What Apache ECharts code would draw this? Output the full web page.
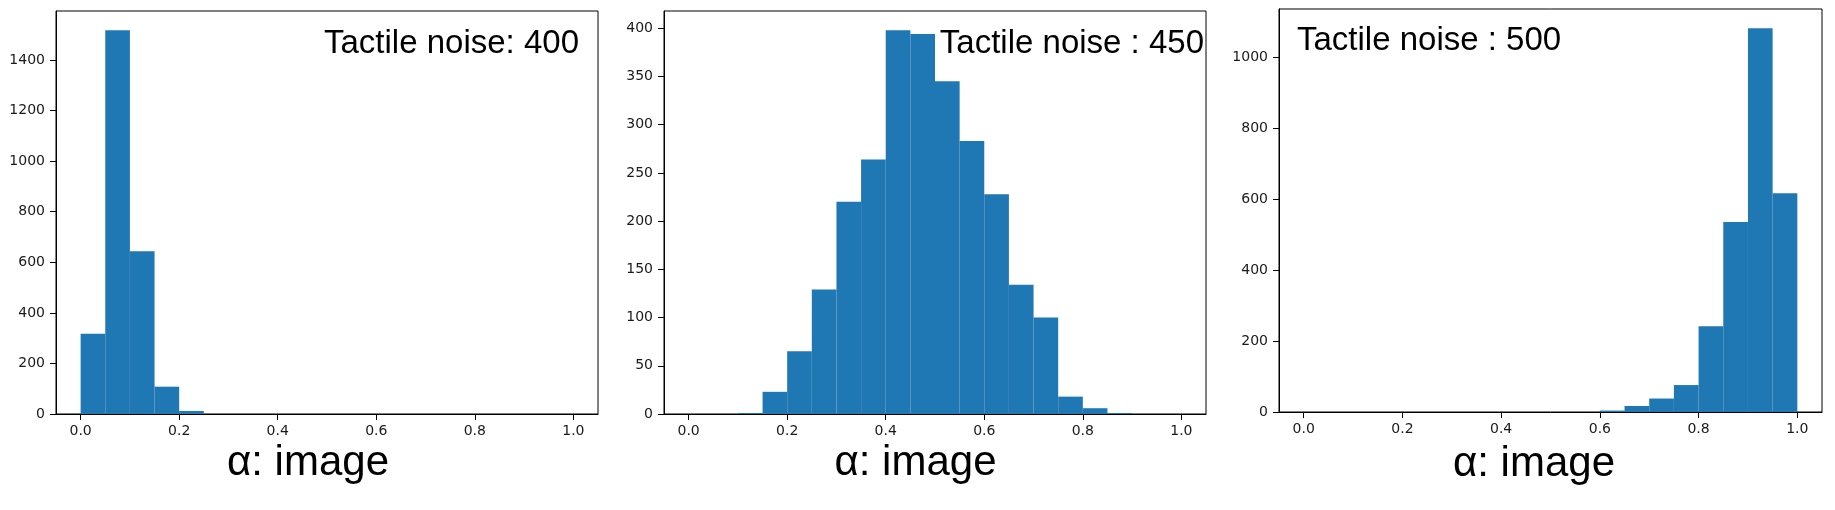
<!DOCTYPE html>
<html>
<head>
<meta charset="utf-8">
<script src="https://cdn.jsdelivr.net/npm/echarts@6/dist/echarts.min.js"></script>
<style>
html,body{margin:0;padding:0;background:#fff;}
#chart{width:1835px;height:510px;}
</style>
</head>
<body>
<div id="chart"></div>
<script>
// ---- data ----
var binEdges = [0, 0.05, 0.1, 0.15, 0.2, 0.25, 0.3, 0.35, 0.4, 0.45, 0.5, 0.55, 0.6, 0.65, 0.7, 0.75, 0.8, 0.85, 0.9, 0.95, 1.0];
var counts400 = [317, 1518, 644, 108, 12, 0, 0, 0, 0, 0, 0, 0, 0, 0, 0, 0, 0, 0, 0, 0];
var counts450 = [0, 0, 1, 23, 65, 129, 220, 264, 398, 394, 345, 283, 228, 134, 100, 18, 6, 1, 0, 0];
var counts500 = [0, 0, 0, 0, 0, 0, 0, 0, 0, 0, 0, 0, 4, 17, 38, 76, 242, 536, 1083, 617];
var panelTitles = ['Tactile noise: 400', 'Tactile noise : 450', 'Tactile noise : 500'];
var xAxisTitle = 'α: image';
var xTicks = [0, 0.2, 0.4, 0.6, 0.8, 1.0];
var yTicks400 = [0, 200, 400, 600, 800, 1000, 1200, 1400];
var yTicks450 = [0, 50, 100, 150, 200, 250, 300, 350, 400];
var yTicks500 = [0, 200, 400, 600, 800, 1000];

// ---- layout ----
var panels = [
  {counts: counts400, yTicks: yTicks400, grid: {left: 56, top: 11, width: 542, height: 403}, nameGap: 16, namePad: 38,
   title: {right: 1835 - 579, top: 27}},
  {counts: counts450, yTicks: yTicks450, grid: {left: 664, top: 11, width: 542, height: 403}, nameGap: 22, namePad: 39,
   title: {right: 1835 - 1204, top: 27}},
  {counts: counts500, yTicks: yTicks500, grid: {left: 1279, top: 9, width: 543, height: 403}, nameGap: 31, namePad: 33,
   title: {left: 1297, top: 24}}
];

function binData(counts) {
  var out = [];
  for (var i = 0; i < counts.length; i++) {
    out.push([binEdges[i], binEdges[i + 1], counts[i]]);
  }
  return out;
}

var option = {
  backgroundColor: '#fff',
  animation: false,
  title: [], grid: [], xAxis: [], yAxis: [], series: []
};

panels.forEach(function (p, k) {
  var maxC = Math.max.apply(null, p.counts);
  var t = {
    text: panelTitles[k], top: p.title.top, padding: 0,
    textStyle: {fontFamily: 'Liberation Sans', fontSize: 33, fontWeight: 'normal', color: '#000'}
  };
  if (p.title.right !== undefined) t.right = p.title.right; else t.left = p.title.left;
  option.title.push(t);
  option.grid.push({left: p.grid.left, top: p.grid.top, width: p.grid.width, height: p.grid.height,
    show: true, borderColor: '#000', borderWidth: 1, backgroundColor: 'transparent', containLabel: false});
  option.xAxis.push({
    type: 'value', gridIndex: k, min: -0.05, max: 1.05,
    name: xAxisTitle, nameLocation: 'middle', nameGap: p.nameGap,
    nameTextStyle: {fontFamily: 'Liberation Sans', fontSize: 42, color: '#000', padding: [0, p.namePad, 0, 0]},
    axisLine: {show: true, onZero: false, lineStyle: {color: '#000', width: 1}},
    axisTick: {show: true, length: 6, inside: false, customValues: xTicks, lineStyle: {color: '#000'}},
    axisLabel: {margin: 10, customValues: xTicks, fontFamily: 'DejaVu Sans', fontSize: 14, color: '#1a1a1a',
      formatter: function (v) { return Number(v).toFixed(1); }},
    splitLine: {show: false}
  });
  option.yAxis.push({
    type: 'value', gridIndex: k, min: 0, max: maxC * 1.05,
    axisLine: {show: true, onZero: false, lineStyle: {color: '#000', width: 1}},
    axisTick: {show: true, length: 6, inside: false, customValues: p.yTicks, lineStyle: {color: '#000'}},
    axisLabel: {margin: 11, customValues: p.yTicks, fontFamily: 'DejaVu Sans', fontSize: 14, color: '#1a1a1a',
      formatter: function (v) { return String(Math.round(v)); }},
    splitLine: {show: false}
  });
  option.series.push({
    type: 'custom', xAxisIndex: k, yAxisIndex: k,
    encode: {x: [0, 1], y: 2},
    data: binData(p.counts),
    renderItem: function (params, api) {
      var x0 = api.value(0), x1 = api.value(1), y = api.value(2);
      var a = api.coord([x0, y]);
      var b = api.coord([x1, 0]);
      return {
        type: 'rect',
        shape: {x: a[0], y: a[1], width: b[0] - a[0], height: b[1] - a[1]},
        style: {fill: '#1f77b4'}
      };
    }
  });
});

var chart = echarts.init(document.getElementById('chart'), null, {renderer: 'canvas'});
chart.setOption(option);
</script>
</body>
</html>
